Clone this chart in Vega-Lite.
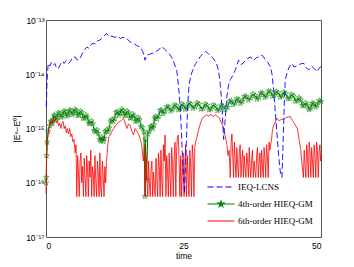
{
  "$schema": "https://vega.github.io/schema/vega-lite/v6.json",
  "width": 275,
  "height": 217,
  "autosize": {"type": "none"},
  "padding": {"left": 46, "top": 20, "right": 33, "bottom": 30},
  "background": "white",
  "config": {
    "view": {"stroke": "#555555", "strokeWidth": 1},
    "font": "Liberation Sans",
    "axis": {"labelFont": "Liberation Sans", "labelFontSize": 8.5, "labelColor": "#000000", "titleFont": "Liberation Sans", "titleFontSize": 8.5, "titleFontWeight": "normal", "titleColor": "#000000", "grid": false, "domain": false, "tickColor": "#333333", "tickSize": 0, "tickWidth": 0.8}
  },
  "datasets": {
    "b": [
      {"t":0.05,"v":2.51e-15},{"t":0.2,"v":7.94e-15},{"t":0.4,"v":1.58e-14},{"t":0.7,"v":1.41e-14},{"t":1.0,"v":1.66e-14},{"t":1.3,"v":1.48e-14},{"t":1.6,"v":1.58e-14},{"t":1.9,"v":1.32e-14},{"t":2.2,"v":1.26e-14},{"t":2.6,"v":1.51e-14},{"t":3.0,"v":1.74e-14},{"t":3.3,"v":1.58e-14},{"t":3.7,"v":1.78e-14},{"t":4.1,"v":1.58e-14},{"t":4.4,"v":1.70e-14},{"t":4.8,"v":2.0e-14},{"t":5.3,"v":2.09e-14},{"t":5.7,"v":1.82e-14},{"t":6.2,"v":1.95e-14},{"t":6.6,"v":2.40e-14},{"t":7.0,"v":2.82e-14},{"t":7.4,"v":3.16e-14},{"t":7.8,"v":3.02e-14},{"t":8.2,"v":3.55e-14},{"t":8.6,"v":3.72e-14},{"t":9.0,"v":3.63e-14},{"t":9.4,"v":4.17e-14},{"t":9.8,"v":4.27e-14},{"t":10.2,"v":4.68e-14},{"t":10.7,"v":5.25e-14},{"t":11.0,"v":5.62e-14},{"t":11.4,"v":5.01e-14},{"t":12.0,"v":5.01e-14},{"t":12.5,"v":4.79e-14},{"t":13.0,"v":5.01e-14},{"t":13.5,"v":4.57e-14},{"t":14.0,"v":4.79e-14},{"t":14.7,"v":4.57e-14},{"t":15.2,"v":3.98e-14},{"t":15.9,"v":3.72e-14},{"t":16.5,"v":3.39e-14},{"t":17.1,"v":3.16e-14},{"t":17.6,"v":2.63e-14},{"t":18.0,"v":1.82e-14},{"t":18.3,"v":2.24e-14},{"t":18.8,"v":2.34e-14},{"t":19.5,"v":2.45e-14},{"t":20.0,"v":2.63e-14},{"t":20.5,"v":2.82e-14},{"t":21.0,"v":3.24e-14},{"t":21.5,"v":2.95e-14},{"t":22.0,"v":2.63e-14},{"t":22.3,"v":2.45e-14},{"t":22.8,"v":2.09e-14},{"t":23.2,"v":1.70e-14},{"t":23.5,"v":1.41e-14},{"t":23.8,"v":1.12e-14},{"t":24.1,"v":5.89e-15},{"t":24.4,"v":2.51e-15},{"t":24.6,"v":1.0e-15},{"t":24.8,"v":3.16e-16},{"t":25.0,"v":1.26e-16},{"t":25.2,"v":6.31e-17},{"t":25.4,"v":2.51e-16},{"t":25.6,"v":1.0e-15},{"t":25.8,"v":3.16e-15},{"t":26.0,"v":6.31e-15},{"t":26.4,"v":1.0e-14},{"t":26.8,"v":1.26e-14},{"t":27.2,"v":1.58e-14},{"t":27.6,"v":1.78e-14},{"t":28.0,"v":2.09e-14},{"t":28.5,"v":2.40e-14},{"t":29.0,"v":2.63e-14},{"t":29.5,"v":2.40e-14},{"t":30.0,"v":2.19e-14},{"t":30.5,"v":1.91e-14},{"t":31.0,"v":1.58e-14},{"t":31.4,"v":1.12e-14},{"t":31.7,"v":6.31e-15},{"t":32.0,"v":2.51e-15},{"t":32.3,"v":6.31e-16},{"t":32.6,"v":1.58e-15},{"t":32.9,"v":3.98e-15},{"t":33.2,"v":6.31e-15},{"t":33.5,"v":7.94e-15},{"t":34.0,"v":9.55e-15},{"t":34.5,"v":1.26e-14},{"t":35.0,"v":1.82e-14},{"t":35.5,"v":1.51e-14},{"t":36.0,"v":1.66e-14},{"t":36.5,"v":1.91e-14},{"t":37.2,"v":2.09e-14},{"t":37.7,"v":1.78e-14},{"t":38.2,"v":2.0e-14},{"t":38.7,"v":2.09e-14},{"t":39.3,"v":2.24e-14},{"t":39.8,"v":1.91e-14},{"t":40.3,"v":1.66e-14},{"t":40.8,"v":1.38e-14},{"t":41.1,"v":1.0e-14},{"t":41.4,"v":5.01e-15},{"t":41.7,"v":2.0e-15},{"t":42.0,"v":7.94e-16},{"t":42.3,"v":3.16e-16},{"t":42.6,"v":1.58e-16},{"t":42.9,"v":1.26e-16},{"t":43.1,"v":5.01e-16},{"t":43.3,"v":2.51e-15},{"t":43.5,"v":7.94e-15},{"t":43.9,"v":1.12e-14},{"t":44.3,"v":1.41e-14},{"t":44.7,"v":1.58e-14},{"t":45.1,"v":1.35e-14},{"t":45.5,"v":1.41e-14},{"t":46.0,"v":1.51e-14},{"t":46.5,"v":1.58e-14},{"t":46.9,"v":1.58e-14},{"t":47.3,"v":1.32e-14},{"t":47.8,"v":1.20e-14},{"t":48.3,"v":1.41e-14},{"t":48.8,"v":1.26e-14},{"t":49.3,"v":1.12e-14},{"t":49.7,"v":1.32e-14},{"t":50.0,"v":1.38e-14}
    ],
    "g": [
      {"t":0.0,"v":1.0e-16},{"t":0.05,"v":1.26e-16},{"t":0.1,"v":3.16e-16},{"t":0.2,"v":5.62e-16},{"t":0.4,"v":8.91e-16},{"t":0.7,"v":1.12e-15},{"t":1.0,"v":1.32e-15},{"t":1.3,"v":1.45e-15},{"t":1.6,"v":1.70e-15},{"t":2.0,"v":1.58e-15},{"t":2.5,"v":1.91e-15},{"t":3.0,"v":1.70e-15},{"t":3.5,"v":2.04e-15},{"t":4.0,"v":1.78e-15},{"t":4.5,"v":2.14e-15},{"t":5.0,"v":1.91e-15},{"t":5.5,"v":2.14e-15},{"t":6.0,"v":1.78e-15},{"t":6.5,"v":1.95e-15},{"t":7.0,"v":1.55e-15},{"t":7.5,"v":1.62e-15},{"t":8.0,"v":1.23e-15},{"t":8.5,"v":1.23e-15},{"t":9.0,"v":8.71e-16},{"t":9.5,"v":8.13e-16},{"t":10.0,"v":5.89e-16},{"t":10.3,"v":6.46e-16},{"t":10.6,"v":6.61e-16},{"t":11.0,"v":9.33e-16},{"t":11.5,"v":1.02e-15},{"t":12.0,"v":1.45e-15},{"t":12.5,"v":1.55e-15},{"t":13.0,"v":2.04e-15},{"t":13.5,"v":1.91e-15},{"t":14.0,"v":2.14e-15},{"t":14.5,"v":1.78e-15},{"t":15.0,"v":1.95e-15},{"t":15.5,"v":1.58e-15},{"t":16.0,"v":1.70e-15},{"t":16.5,"v":1.38e-15},{"t":17.0,"v":1.45e-15},{"t":17.5,"v":1.05e-15},{"t":17.8,"v":8.71e-16},{"t":18.0,"v":5.62e-17},{"t":18.1,"v":6.31e-16},{"t":18.3,"v":1.12e-16},{"t":18.5,"v":7.94e-16},{"t":18.8,"v":8.91e-16},{"t":19.2,"v":1.07e-15},{"t":19.6,"v":1.17e-15},{"t":19.9,"v":1.66e-15},{"t":20.5,"v":1.70e-15},{"t":21.0,"v":2.19e-15},{"t":21.6,"v":2.04e-15},{"t":22.3,"v":2.51e-15},{"t":23.0,"v":2.24e-15},{"t":23.7,"v":2.63e-15},{"t":24.4,"v":2.34e-15},{"t":25.0,"v":2.69e-15},{"t":25.6,"v":2.40e-15},{"t":26.3,"v":2.82e-15},{"t":27.1,"v":2.51e-15},{"t":27.8,"v":2.82e-15},{"t":28.6,"v":2.34e-15},{"t":29.3,"v":2.69e-15},{"t":30.0,"v":2.29e-15},{"t":30.8,"v":2.57e-15},{"t":31.5,"v":2.24e-15},{"t":32.2,"v":2.57e-15},{"t":33.0,"v":2.45e-15},{"t":33.7,"v":3.24e-15},{"t":34.4,"v":2.95e-15},{"t":35.0,"v":3.39e-15},{"t":35.7,"v":3.16e-15},{"t":36.4,"v":3.89e-15},{"t":37.2,"v":3.63e-15},{"t":38.0,"v":4.07e-15},{"t":38.7,"v":3.72e-15},{"t":39.4,"v":4.47e-15},{"t":40.1,"v":3.98e-15},{"t":40.8,"v":4.79e-15},{"t":41.5,"v":4.07e-15},{"t":42.2,"v":4.57e-15},{"t":42.9,"v":3.98e-15},{"t":43.6,"v":4.37e-15},{"t":44.3,"v":3.63e-15},{"t":45.0,"v":3.98e-15},{"t":45.7,"v":3.24e-15},{"t":46.3,"v":3.39e-15},{"t":46.9,"v":2.63e-15},{"t":47.5,"v":2.69e-15},{"t":48.1,"v":2.34e-15},{"t":48.7,"v":2.88e-15},{"t":49.3,"v":2.69e-15},{"t":50.0,"v":3.16e-15},
      {"t":0.85,"v":1.37e-15},{"t":1.15,"v":1.23e-15},{"t":1.45,"v":1.76e-15},{"t":1.8,"v":1.46e-15},{"t":2.25,"v":1.95e-15},{"t":2.75,"v":1.60e-15},{"t":3.25,"v":2.08e-15},{"t":3.75,"v":1.70e-15},{"t":4.25,"v":2.18e-15},{"t":4.75,"v":1.80e-15},{"t":5.25,"v":2.26e-15},{"t":5.75,"v":1.74e-15},{"t":6.25,"v":2.08e-15},{"t":6.75,"v":1.55e-15},{"t":7.25,"v":1.77e-15},{"t":7.75,"v":1.26e-15},{"t":8.25,"v":1.38e-15},{"t":8.75,"v":9.2e-16},{"t":9.25,"v":9.4e-16},{"t":9.75,"v":6.2e-16},{"t":10.15,"v":6.9e-16},{"t":10.45,"v":5.8e-16},{"t":10.8,"v":8.8e-16},{"t":11.25,"v":8.7e-16},{"t":11.75,"v":1.37e-15},{"t":12.25,"v":1.34e-15},{"t":12.75,"v":1.99e-15},{"t":13.25,"v":1.75e-15},{"t":13.75,"v":2.26e-15},{"t":14.25,"v":1.74e-15},{"t":14.75,"v":2.08e-15},{"t":15.25,"v":1.56e-15},{"t":15.75,"v":1.84e-15},{"t":16.25,"v":1.36e-15},{"t":16.75,"v":1.58e-15},{"t":17.25,"v":1.10e-15},{"t":19.0,"v":1.10e-15},{"t":19.4,"v":1.0e-15},{"t":19.75,"v":1.56e-15},{"t":20.2,"v":1.50e-15},{"t":20.75,"v":2.16e-15},{"t":21.3,"v":1.88e-15},{"t":21.95,"v":2.53e-15},{"t":22.65,"v":2.11e-15},{"t":23.35,"v":2.72e-15},{"t":24.05,"v":2.21e-15},{"t":24.7,"v":2.81e-15},{"t":25.3,"v":2.26e-15},{"t":25.95,"v":2.91e-15},{"t":26.7,"v":2.37e-15},{"t":27.45,"v":2.98e-15},{"t":28.2,"v":2.29e-15},{"t":28.95,"v":2.81e-15},{"t":29.65,"v":2.21e-15},{"t":30.4,"v":2.72e-15},{"t":31.15,"v":2.14e-15},{"t":31.85,"v":2.69e-15},{"t":32.6,"v":2.23e-15},{"t":33.35,"v":3.16e-15},{"t":34.05,"v":2.75e-15},{"t":34.7,"v":3.54e-15},{"t":35.35,"v":2.91e-15},{"t":36.05,"v":3.92e-15},{"t":36.8,"v":3.35e-15},{"t":37.6,"v":4.30e-15},{"t":38.35,"v":3.46e-15},{"t":39.05,"v":4.57e-15},{"t":39.75,"v":3.76e-15},{"t":40.45,"v":4.89e-15},{"t":41.15,"v":3.93e-15},{"t":41.85,"v":4.83e-15},{"t":42.55,"v":3.79e-15},{"t":43.25,"v":4.67e-15},{"t":43.95,"v":3.54e-15},{"t":44.65,"v":4.26e-15},{"t":45.35,"v":3.20e-15},{"t":46.0,"v":3.71e-15},{"t":46.6,"v":2.66e-15},{"t":47.2,"v":2.98e-15},{"t":47.8,"v":2.23e-15},{"t":48.4,"v":2.91e-15},{"t":49.0,"v":2.47e-15},{"t":49.65,"v":3.27e-15}
    ],
    "r": [
      {"t":0.0,"v":6.3e-17},{"t":0.1,"v":2.51e-16},{"t":0.3,"v":6.31e-16},{"t":0.5,"v":1.0e-15},{"t":0.7,"v":1.15e-15},{"t":0.9,"v":1.41e-15},{"t":1.1,"v":1.26e-15},{"t":1.3,"v":1.55e-15},{"t":1.5,"v":1.38e-15},{"t":1.7,"v":1.51e-15},{"t":1.9,"v":1.26e-15},{"t":2.1,"v":1.41e-15},{"t":2.3,"v":1.12e-15},{"t":2.5,"v":1.26e-15},{"t":2.7,"v":1.0e-15},{"t":2.9,"v":1.26e-15},{"t":3.1,"v":1.35e-15},{"t":3.3,"v":1.0e-15},{"t":3.5,"v":1.12e-15},{"t":3.7,"v":8.32e-16},{"t":3.9,"v":1.0e-15},{"t":4.1,"v":7.94e-16},{"t":4.3,"v":1.0e-15},{"t":4.5,"v":7.08e-16},{"t":4.7,"v":7.94e-16},{"t":4.9,"v":5.62e-16},{"t":5.1,"v":6.31e-16},{"t":5.3,"v":3.55e-16},{"t":5.45,"v":5.01e-16},{"t":5.6,"v":5.55e-17},{"t":5.75,"v":3.16e-16},{"t":5.9,"v":1.58e-16},{"t":6.05,"v":5.55e-17},{"t":6.2,"v":2.51e-16},{"t":6.35,"v":3.55e-16},{"t":6.5,"v":1.0e-16},{"t":6.65,"v":2.0e-16},{"t":6.8,"v":5.55e-17},{"t":6.95,"v":2.82e-16},{"t":7.1,"v":1.26e-16},{"t":7.25,"v":5.55e-17},{"t":7.4,"v":3.16e-16},{"t":7.55,"v":1.78e-16},{"t":7.7,"v":5.55e-17},{"t":7.85,"v":2.51e-16},{"t":8.0,"v":1.26e-16},{"t":8.15,"v":3.98e-16},{"t":8.3,"v":5.55e-17},{"t":8.45,"v":2.0e-16},{"t":8.6,"v":1.41e-16},{"t":8.75,"v":5.55e-17},{"t":8.9,"v":3.16e-16},{"t":9.05,"v":1.12e-16},{"t":9.2,"v":5.55e-17},{"t":9.35,"v":2.51e-16},{"t":9.5,"v":1.58e-16},{"t":9.65,"v":5.55e-17},{"t":9.8,"v":3.55e-16},{"t":9.95,"v":7.94e-17},{"t":10.1,"v":5.55e-17},{"t":10.25,"v":2.51e-16},{"t":10.4,"v":1.26e-16},{"t":10.55,"v":5.55e-17},{"t":10.7,"v":2.0e-16},{"t":10.85,"v":1.0e-16},{"t":11.0,"v":2.45e-16},{"t":11.2,"v":4.47e-16},{"t":11.4,"v":7.08e-16},{"t":11.7,"v":7.59e-16},{"t":12.0,"v":8.91e-16},{"t":12.3,"v":1.0e-15},{"t":12.6,"v":1.12e-15},{"t":12.9,"v":1.20e-15},{"t":13.2,"v":1.32e-15},{"t":13.5,"v":1.35e-15},{"t":13.8,"v":1.45e-15},{"t":14.1,"v":1.55e-15},{"t":14.4,"v":1.26e-15},{"t":14.7,"v":1.0e-15},{"t":15.0,"v":1.20e-15},{"t":15.3,"v":1.15e-15},{"t":15.6,"v":8.91e-16},{"t":15.9,"v":7.59e-16},{"t":16.2,"v":1.0e-15},{"t":16.5,"v":8.91e-16},{"t":16.8,"v":7.94e-16},{"t":17.1,"v":6.61e-16},{"t":17.4,"v":5.01e-16},{"t":17.7,"v":2.51e-16},{"t":17.9,"v":5.01e-16},{"t":18.05,"v":5.55e-17},{"t":18.2,"v":3.16e-16},{"t":18.35,"v":1.26e-16},{"t":18.5,"v":5.55e-17},{"t":18.65,"v":2.51e-16},{"t":18.8,"v":1.0e-16},{"t":18.95,"v":5.55e-17},{"t":19.1,"v":1.78e-16},{"t":19.25,"v":2.51e-16},{"t":19.4,"v":5.55e-17},{"t":19.55,"v":1.58e-16},{"t":19.7,"v":8.91e-17},{"t":19.85,"v":5.55e-17},{"t":20.0,"v":2.82e-16},{"t":20.15,"v":1.26e-16},{"t":20.3,"v":5.55e-17},{"t":20.45,"v":3.55e-16},{"t":20.6,"v":2.0e-16},{"t":20.75,"v":5.55e-17},{"t":20.9,"v":3.98e-16},{"t":21.05,"v":1.12e-16},{"t":21.2,"v":5.55e-17},{"t":21.35,"v":5.01e-16},{"t":21.5,"v":2.51e-16},{"t":21.65,"v":7.59e-16},{"t":21.8,"v":5.55e-17},{"t":21.95,"v":3.16e-16},{"t":22.1,"v":1.58e-16},{"t":22.25,"v":5.55e-17},{"t":22.4,"v":3.55e-16},{"t":22.55,"v":1.26e-16},{"t":22.7,"v":5.55e-17},{"t":22.85,"v":4.47e-16},{"t":23.0,"v":2.0e-16},{"t":23.15,"v":5.55e-17},{"t":23.3,"v":3.16e-16},{"t":23.45,"v":5.62e-16},{"t":23.6,"v":5.55e-17},{"t":23.75,"v":3.98e-16},{"t":23.9,"v":7.08e-16},{"t":24.05,"v":7.59e-16},{"t":24.2,"v":2.51e-16},{"t":24.35,"v":5.55e-17},{"t":24.5,"v":3.16e-16},{"t":24.65,"v":5.55e-17},{"t":24.8,"v":1.58e-16},{"t":24.95,"v":3.55e-16},{"t":25.1,"v":5.55e-17},{"t":25.25,"v":2.51e-16},{"t":25.4,"v":5.01e-16},{"t":25.55,"v":5.55e-17},{"t":25.7,"v":3.16e-16},{"t":25.85,"v":1.26e-16},{"t":26.0,"v":5.55e-17},{"t":26.15,"v":3.98e-16},{"t":26.3,"v":2.0e-16},{"t":26.45,"v":5.55e-17},{"t":26.6,"v":5.01e-16},{"t":26.75,"v":2.82e-16},{"t":26.9,"v":5.55e-17},{"t":27.05,"v":4.47e-16},{"t":27.2,"v":5.62e-16},{"t":27.4,"v":6.61e-16},{"t":27.8,"v":1.0e-15},{"t":28.1,"v":1.26e-15},{"t":28.4,"v":1.55e-15},{"t":28.8,"v":1.66e-15},{"t":29.2,"v":1.78e-15},{"t":29.6,"v":1.70e-15},{"t":30.0,"v":1.82e-15},{"t":30.4,"v":1.66e-15},{"t":30.8,"v":1.78e-15},{"t":31.2,"v":1.66e-15},{"t":31.5,"v":1.58e-15},{"t":31.8,"v":1.32e-15},{"t":32.1,"v":1.15e-15},{"t":32.4,"v":8.91e-16},{"t":32.7,"v":6.31e-16},{"t":32.9,"v":5.01e-16},{"t":33.1,"v":3.16e-16},{"t":33.3,"v":3.98e-16},{"t":33.5,"v":1.25e-16},{"t":33.65,"v":5.01e-16},{"t":33.8,"v":7.94e-16},{"t":33.95,"v":3.16e-16},{"t":34.1,"v":1.25e-16},{"t":34.25,"v":5.62e-16},{"t":34.4,"v":2.51e-16},{"t":34.55,"v":1.25e-16},{"t":34.7,"v":4.47e-16},{"t":34.85,"v":2.0e-16},{"t":35.0,"v":1.25e-16},{"t":35.15,"v":3.55e-16},{"t":35.3,"v":5.01e-16},{"t":35.45,"v":1.25e-16},{"t":35.6,"v":2.51e-16},{"t":35.75,"v":3.98e-16},{"t":35.9,"v":1.25e-16},{"t":36.05,"v":3.16e-16},{"t":36.2,"v":1.78e-16},{"t":36.35,"v":1.25e-16},{"t":36.5,"v":3.55e-16},{"t":36.65,"v":2.51e-16},{"t":36.8,"v":1.25e-16},{"t":36.95,"v":4.47e-16},{"t":37.1,"v":2.0e-16},{"t":37.25,"v":1.25e-16},{"t":37.4,"v":2.82e-16},{"t":37.55,"v":3.98e-16},{"t":37.7,"v":1.25e-16},{"t":37.85,"v":2.51e-16},{"t":38.0,"v":1.58e-16},{"t":38.15,"v":1.25e-16},{"t":38.3,"v":3.16e-16},{"t":38.45,"v":4.47e-16},{"t":38.6,"v":1.25e-16},{"t":38.75,"v":2.51e-16},{"t":38.9,"v":3.55e-16},{"t":39.05,"v":1.25e-16},{"t":39.2,"v":3.98e-16},{"t":39.35,"v":2.0e-16},{"t":39.5,"v":1.25e-16},{"t":39.65,"v":4.47e-16},{"t":39.8,"v":2.82e-16},{"t":39.95,"v":1.25e-16},{"t":40.1,"v":5.01e-16},{"t":40.25,"v":3.16e-16},{"t":40.4,"v":1.25e-16},{"t":40.55,"v":5.62e-16},{"t":40.7,"v":3.98e-16},{"t":40.85,"v":5.01e-16},{"t":41.0,"v":6.31e-16},{"t":41.2,"v":1.0e-15},{"t":41.5,"v":1.20e-15},{"t":41.8,"v":1.41e-15},{"t":42.0,"v":1.55e-15},{"t":42.4,"v":1.38e-15},{"t":42.8,"v":1.48e-15},{"t":43.2,"v":1.45e-15},{"t":43.6,"v":1.58e-15},{"t":44.0,"v":1.62e-15},{"t":44.4,"v":1.66e-15},{"t":44.8,"v":1.41e-15},{"t":45.1,"v":1.26e-15},{"t":45.4,"v":1.12e-15},{"t":45.7,"v":1.0e-15},{"t":46.0,"v":6.31e-16},{"t":46.3,"v":4.27e-16},{"t":46.5,"v":2.51e-16},{"t":46.8,"v":1.25e-16},{"t":46.95,"v":3.98e-16},{"t":47.1,"v":2.0e-16},{"t":47.25,"v":1.25e-16},{"t":47.4,"v":5.01e-16},{"t":47.55,"v":3.16e-16},{"t":47.7,"v":1.25e-16},{"t":47.85,"v":5.62e-16},{"t":48.0,"v":3.55e-16},{"t":48.15,"v":1.25e-16},{"t":48.3,"v":4.47e-16},{"t":48.45,"v":2.51e-16},{"t":48.6,"v":1.25e-16},{"t":48.75,"v":5.01e-16},{"t":48.9,"v":3.16e-16},{"t":49.05,"v":1.25e-16},{"t":49.2,"v":5.62e-16},{"t":49.35,"v":3.98e-16},{"t":49.5,"v":1.25e-16},{"t":49.65,"v":3.55e-16},{"t":49.8,"v":5.01e-16},{"t":49.95,"v":2.51e-16},{"t":50.0,"v":3.16e-16}
    ]
  },
  "layer": [
    {
      "data": {"name": "g"},
      "mark": {"type": "line", "strokeWidth": 1},
      "encoding": {
        "x": {"field": "t", "type": "quantitative", "scale": {"domain": [0, 50], "nice": false},
              "axis": {"orient": "bottom", "values": [0, 25, 50], "title": "time", "labelPadding": 4, "titlePadding": 2,
                       "encode": {"ticks": {"update": {"y2": {"value": -4}}}}}},
        "y": {"field": "v", "type": "quantitative", "scale": {"type": "log", "domain": [1e-17, 1e-13], "nice": false},
              "axis": {"orient": "left",
                       "values": [1e-17,2e-17,3e-17,4e-17,5e-17,6e-17,7e-17,8e-17,9e-17,1e-16,2e-16,3e-16,4e-16,5e-16,6e-16,7e-16,8e-16,9e-16,1e-15,2e-15,3e-15,4e-15,5e-15,6e-15,7e-15,8e-15,9e-15,1e-14,2e-14,3e-14,4e-14,5e-14,6e-14,7e-14,8e-14,9e-14,1e-13],
                       "labelExpr": "datum.value == 1e-13 ? '10⁻¹³' : datum.value == 1e-14 ? '10⁻¹⁴' : datum.value == 1e-15 ? '10⁻¹⁵' : datum.value == 1e-16 ? '10⁻¹⁶' : datum.value == 1e-17 ? '10⁻¹⁷' : ''",
                       "labelPadding": 2, "labelOverlap": false, "title": "|Eⁿ−E⁰|", "titlePadding": 4,
                       "encode": {"ticks": {"update": {"x2": {"signal": "indexof([1e-17,1e-16,1e-15,1e-14,1e-13], datum.value) >= 0 ? 4 : 2"}}}}}},
        "color": {"datum": "4th-order HIEQ-GM", "type": "nominal",
                  "scale": {"domain": ["IEQ-LCNS", "4th-order HIEQ-GM", "6th-order HIEQ-GM"], "range": ["#0000ff", "#008000", "#ff0000"]},
                  "legend": {"orient": "none", "legendX": 169, "legendY": 161, "title": null, "padding": 0,
                             "symbolSize": 100, "symbolStrokeWidth": 1.2, "labelFont": "Liberation Serif", "labelFontSize": 9, "labelColor": "#000000", "labelOffset": 11, "rowPadding": 6,
                             "encode": {"symbols": {"update": {
                               "shape": {"signal": "datum.value === '4th-order HIEQ-GM' ? 'M-2.7,0L2.7,0M0,-0.6L0.141,-0.194L0.571,-0.185L0.228,0.074L0.353,0.485L0,0.24L-0.353,0.485L-0.228,0.074L-0.571,-0.185L-0.141,-0.194Z' : 'M-2.7,0L2.7,0'"},
                               "strokeDash": {"signal": "datum.value === 'IEQ-LCNS' ? [6, 3] : [1, 0]"},
                               "fill": {"value": "transparent"}}}}}}
      }
    },
    {
      "data": {"name": "g"},
      "mark": {"type": "point", "shape": "M0,-1L0.235,-0.324L0.951,-0.309L0.38,0.124L0.588,0.809L0,0.4L-0.588,0.809L-0.38,0.124L-0.951,-0.309L-0.235,-0.324Z", "size": 34, "filled": false, "strokeWidth": 0.8, "color": "#008000"},
      "encoding": {
        "x": {"field": "t", "type": "quantitative",
              "axis": {"orient": "top", "values": [0, 25, 50], "labels": false, "title": null,
                       "encode": {"ticks": {"update": {"y2": {"value": 4}}}}}},
        "y": {"field": "v", "type": "quantitative",
              "axis": {"orient": "right",
                       "values": [1e-17,2e-17,3e-17,4e-17,5e-17,6e-17,7e-17,8e-17,9e-17,1e-16,2e-16,3e-16,4e-16,5e-16,6e-16,7e-16,8e-16,9e-16,1e-15,2e-15,3e-15,4e-15,5e-15,6e-15,7e-15,8e-15,9e-15,1e-14,2e-14,3e-14,4e-14,5e-14,6e-14,7e-14,8e-14,9e-14,1e-13],
                       "labels": false, "title": null,
                       "encode": {"ticks": {"update": {"x2": {"signal": "indexof([1e-17,1e-16,1e-15,1e-14,1e-13], datum.value) >= 0 ? -4 : -2"}}}}}}
      }
    },
    {
      "data": {"name": "r"},
      "mark": {"type": "line", "strokeWidth": 0.8},
      "encoding": {
        "x": {"field": "t", "type": "quantitative", "axis": null},
        "y": {"field": "v", "type": "quantitative", "axis": null},
        "color": {"datum": "6th-order HIEQ-GM", "type": "nominal"}
      }
    },
    {
      "data": {"name": "b"},
      "mark": {"type": "line", "strokeWidth": 0.9, "strokeDash": [6, 3]},
      "encoding": {
        "x": {"field": "t", "type": "quantitative", "axis": null},
        "y": {"field": "v", "type": "quantitative", "axis": null},
        "color": {"datum": "IEQ-LCNS", "type": "nominal"}
      }
    }
  ],
  "resolve": {"axis": {"x": "independent", "y": "independent"}}
}
